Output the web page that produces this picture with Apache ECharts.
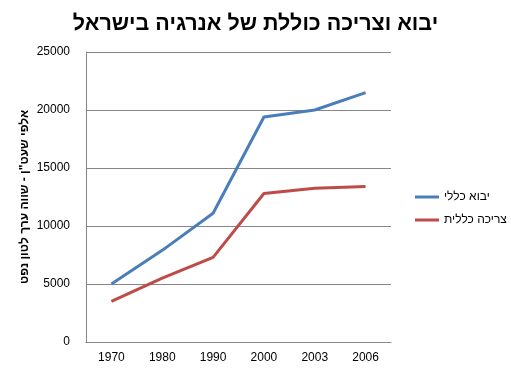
<!DOCTYPE html>
<html>
<head>
<meta charset="utf-8">
<script src="https://cdn.jsdelivr.net/npm/echarts@6/dist/echarts.min.js"></script>
<style>
html,body{margin:0;padding:0;background:#fff;}
#c{width:511px;height:368px;}
</style>
</head>
<body>
<div id="c"></div>
<script>
const titleText = 'יבוא וצריכה כוללת של אנרגיה בישראל';
const yAxisName = 'אלפי שעט"ן - שווה ערך לטון נפט';
const years = ['1970', '1980', '1990', '2000', '2003', '2006'];
const seriesNames = ['יבוא כללי', 'צריכה כללית'];
const importTotal = [5000, 7900, 11100, 19400, 20000, 21500];
const consumptionTotal = [3500, 5500, 7300, 12800, 13250, 13400];
const yTicks = [0, 5000, 10000, 15000, 20000, 25000];

const chart = echarts.init(document.getElementById('c'), null, {renderer: 'canvas'});
chart.setOption({
  animation: false,
  backgroundColor: '#fff',
  title: {
    text: titleText,
    left: 'center',
    top: 8,
    textStyle: {fontFamily: 'Liberation Sans, Arial', fontWeight: 'bold', fontSize: 21.5, color: '#000'}
  },
  legend: {
    orient: 'vertical',
    left: 410,
    top: 186,
    itemWidth: 24,
    itemHeight: 3,
    itemGap: 11,
    icon: 'rect',
    textStyle: {fontFamily: 'Liberation Sans, Arial', fontSize: 12, color: '#000'},
    data: seriesNames
  },
  grid: {left: 86, right: 120, top: 52, bottom: 26, containLabel: false},
  xAxis: {
    type: 'category',
    data: years,
    boundaryGap: true,
    axisLine: {lineStyle: {color: '#868686', width: 1}},
    axisTick: {show: false},
    axisLabel: {fontFamily: 'Liberation Sans, Arial', fontSize: 12, color: '#000', margin: 10}
  },
  yAxis: {
    type: 'value',
    min: yTicks[0],
    max: yTicks[yTicks.length - 1],
    interval: yTicks[1] - yTicks[0],
    name: yAxisName,
    nameLocation: 'middle',
    nameGap: 55,
    nameMoveOverlap: false,
    nameRotate: 90,
    nameTextStyle: {fontFamily: 'Liberation Sans, Arial', fontWeight: 'bold', fontSize: 12, color: '#000'},
    axisLine: {show: true, lineStyle: {color: '#868686', width: 1}},
    axisTick: {show: false},
    splitLine: {lineStyle: {color: '#868686', width: 1}},
    axisLabel: {fontFamily: 'Liberation Sans, Arial', fontSize: 12, color: '#000', margin: 16,
      formatter: function (v) { return String(v); }}
  },
  series: [
    {
      name: seriesNames[0],
      type: 'line',
      data: importTotal,
      symbol: 'none',
      lineStyle: {color: '#4a7ebb', width: 3},
      itemStyle: {color: '#4a7ebb'}
    },
    {
      name: seriesNames[1],
      type: 'line',
      data: consumptionTotal,
      symbol: 'none',
      lineStyle: {color: '#be4b48', width: 3},
      itemStyle: {color: '#be4b48'}
    }
  ]
});
</script>
</body>
</html>
